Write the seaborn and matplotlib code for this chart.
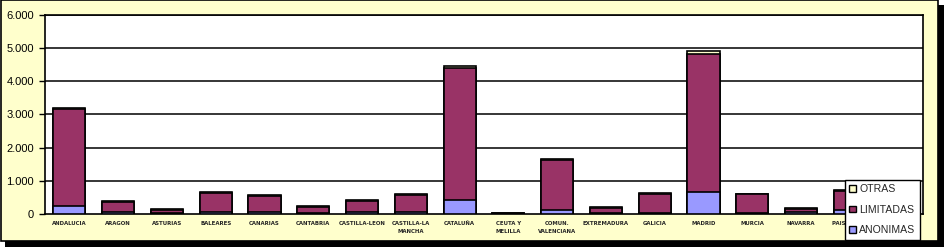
import matplotlib
matplotlib.use("Agg")
import matplotlib.pyplot as plt
import matplotlib.patches as mpatches
from matplotlib import font_manager
import seaborn as sns
import pandas as pd
import numpy as np

categories = ["ANDALUCIA", "ARAGON", "ASTURIAS", "BALEARES", "CANARIAS", "CANTABRIA",
              "CASTILLA-LEON", "CASTILLA-LA\nMANCHA", "CATALUÑA", "CEUTA Y\nMELILLA",
              "COMUN.\nVALENCIANA", "EXTREMADURA", "GALICIA", "MADRID", "MURCIA",
              "NAVARRA", "PAIS VASCO", "LA RIOJA"]
anonimas = [230, 50, 20, 70, 60, 30, 60, 60, 410, 5, 110, 20, 40, 670, 40, 60, 110, 10]
limitadas = [2940, 315, 105, 575, 490, 195, 340, 525, 3985, 20, 1520, 175, 570, 4140, 550, 95, 585, 80]
otras = [30, 20, 15, 15, 15, 15, 15, 15, 80, 3, 25, 15, 15, 90, 15, 15, 20, 5]
yticks = [0, 1000, 2000, 3000, 4000, 5000, 6000]
ytick_labels = ["0", "1.000", "2.000", "3.000", "4.000", "5.000", "6.000"]

c_anon = "#9999FF"
c_lim = "#993366"
c_otr = "#FFFFCC"

df = pd.DataFrame({"cat": categories, "anon": anonimas, "lim": limitadas, "otr": otras})
df["s2"] = df["anon"] + df["lim"]
df["s3"] = df["s2"] + df["otr"]

sns.set_theme(style="white")
plt.rcParams["font.family"] = ["Liberation Sans", "DejaVu Sans"]

cond = [f for f in font_manager.fontManager.ttflist
        if "condensed" in f.fname.lower() and "bold" in f.fname.lower() and "dejavu" in f.fname.lower()
        and "oblique" not in f.fname.lower()]
if cond:
    xprop = font_manager.FontProperties(fname=cond[0].fname, size=4.3)
else:
    xprop = font_manager.FontProperties(family="DejaVu Sans", weight="bold", size=3.9)

W, H = 944, 247
fig = plt.figure(figsize=(W / 100, H / 100), dpi=100)
fig.patch.set_facecolor("white")

# shadow and frame
fig.patches.append(mpatches.Rectangle((5 / W, 0), 939 / W, 242 / H, transform=fig.transFigure,
                                      facecolor="black", edgecolor="none", zorder=-10))
fig.patches.append(mpatches.Rectangle((0.5 / W, 6 / H), 937.5 / W, 240.5 / H, transform=fig.transFigure,
                                      facecolor="#FFFFCC", edgecolor="black", linewidth=1.2, zorder=-9))

ax = fig.add_axes([45 / W, (H - 214) / H, 878 / W, 199 / H])
ax.set_facecolor("white")

bw = 0.66
for col, color in [("s3", c_otr), ("s2", c_lim), ("anon", c_anon)]:
    sns.barplot(data=df, x="cat", y=col, color=color, width=bw, edgecolor="black",
                linewidth=1.2, saturation=1, ax=ax, zorder=3)

ax.set_ylim(0, 6000)
ax.set_xlim(-0.5, len(categories) - 0.5)
ax.set_yticks(yticks)
ax.set_yticklabels(ytick_labels, fontsize=8, color="black")
for y in yticks[1:]:
    ax.axhline(y, color="black", linewidth=1.1, zorder=1)
ax.set_xlabel("")
ax.set_ylabel("")
ax.tick_params(axis="y", which="both", left=True, length=4, width=1, color="black", pad=4)
ax.tick_params(axis="x", bottom=False, length=0, pad=5)
for lab in ax.get_xticklabels():
    lab.set_fontproperties(xprop)
    lab.set_linespacing(1.7)
for s in ax.spines.values():
    s.set_visible(True)
    s.set_color("black")
    s.set_linewidth(1.2)

handles = [mpatches.Patch(facecolor=c_otr, edgecolor="black", linewidth=1, label="OTRAS"),
           mpatches.Patch(facecolor=c_lim, edgecolor="black", linewidth=1, label="LIMITADAS"),
           mpatches.Patch(facecolor=c_anon, edgecolor="black", linewidth=1, label="ANONIMAS")]
leg = fig.legend(handles=handles, loc="upper left", bbox_to_anchor=(845 / W, (H - 180) / H),
                 frameon=True, fancybox=False, fontsize=7.6, handlelength=0.6, handleheight=0.6,
                 handletextpad=0.35, labelspacing=0.98, borderpad=0.42, borderaxespad=0)
leg.get_frame().set_edgecolor("black")
leg.get_frame().set_linewidth(1)
leg.get_frame().set_facecolor("white")
leg.get_frame().set_alpha(1)
leg.set_zorder(10)

fig.savefig("out.png", dpi=100, facecolor=fig.get_facecolor())
